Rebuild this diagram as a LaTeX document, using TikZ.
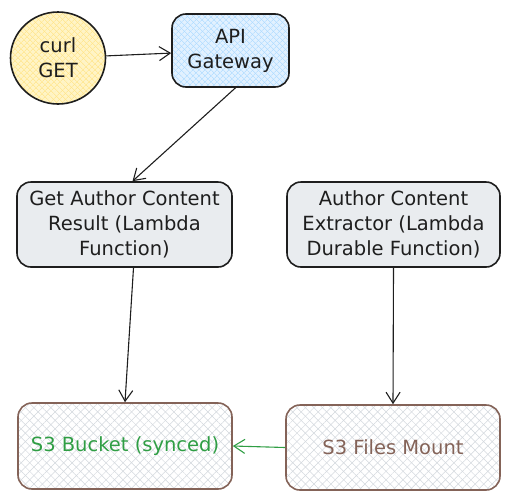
\documentclass[tikz,border=0pt]{standalone}
\usepackage{fontspec}
\setmainfont{DejaVu Sans}
\usetikzlibrary{positioning,arrows.meta,shapes.geometric,patterns.meta}
\definecolor{ink}{HTML}{1E1E1E}
\definecolor{brownline}{HTML}{846358}
\definecolor{greenline}{HTML}{2F9E44}
\definecolor{yellowbg}{HTML}{FFF4C6}
\definecolor{yellowhatch}{HTML}{FFE27F}
\definecolor{bluebg}{HTML}{E2F1FF}
\definecolor{bluehatch}{HTML}{A5D8FF}
\definecolor{graybg}{HTML}{E9ECEF}
\definecolor{s3hatch}{HTML}{D3D8DD}

\begin{document}
\begin{tikzpicture}[x=1pt,y=-1pt,font=\fontsize{19.5}{25}\selectfont,
	hatch/.style n args={3}{preaction={fill=#1},
		preaction={pattern={Lines[angle=45,distance=#3,line width=.5pt]},pattern color=#2},
		preaction={pattern={Lines[angle=-45,distance=#3,line width=.5pt]},pattern color=#2}},
	box/.style={draw=ink,line width=1.6pt,rounded corners=14pt,align=center,text=ink,inner sep=0pt},
	link/.style={draw=ink,line width=1.1pt,-{Straight Barb[length=11pt,width=14pt]}}]
		\useasboundingbox (0,0) rectangle (510,501);
		% top row
		\node[ellipse,draw=ink,line width=1.6pt,align=center,text=ink,hatch={yellowbg}{yellowhatch}{4pt},
			minimum width=95pt,minimum height=92pt,inner sep=0pt] (curl) at (58,58) {curl\\GET};
		\node[box,hatch={bluebg}{bluehatch}{4pt},minimum width=117pt,minimum height=73pt] (api) at (230.5,50.5) {API\\Gateway};
		% lambda functions
		\node[box,fill=graybg,minimum width=215pt,minimum height=85pt] (get) at (124.5,224.5)
			{Get Author Content\\Result (Lambda\\Function)};
		\node[box,fill=graybg,minimum width=213pt,minimum height=85pt] (ext) at (393.5,224.5)
			{Author Content\\Extractor (Lambda\\Durable Function)};
		% storage
		\node[box,draw=brownline,text=greenline,hatch={white}{s3hatch}{6pt},minimum width=214pt,minimum height=86pt] (bucket) at (125,446)
			{S3 Bucket (synced)};
		\node[box,draw=brownline,text=brownline,hatch={white}{s3hatch}{6pt},minimum width=214pt,minimum height=85pt] (mount) at (393,447.5)
			{S3 Files Mount};
		% connectors
		\draw[link] (curl) -- (api);
		\draw[link] ([xshift=5pt]api.south) -- ([xshift=8pt]get.north);
		\draw[link] ([xshift=9pt]get.south) -- (bucket.north);
		\draw[link] (ext.south) -- (mount.north);
		\draw[link,draw=greenline] (mount.west) -- (bucket.east);
\end{tikzpicture}
\end{document}
